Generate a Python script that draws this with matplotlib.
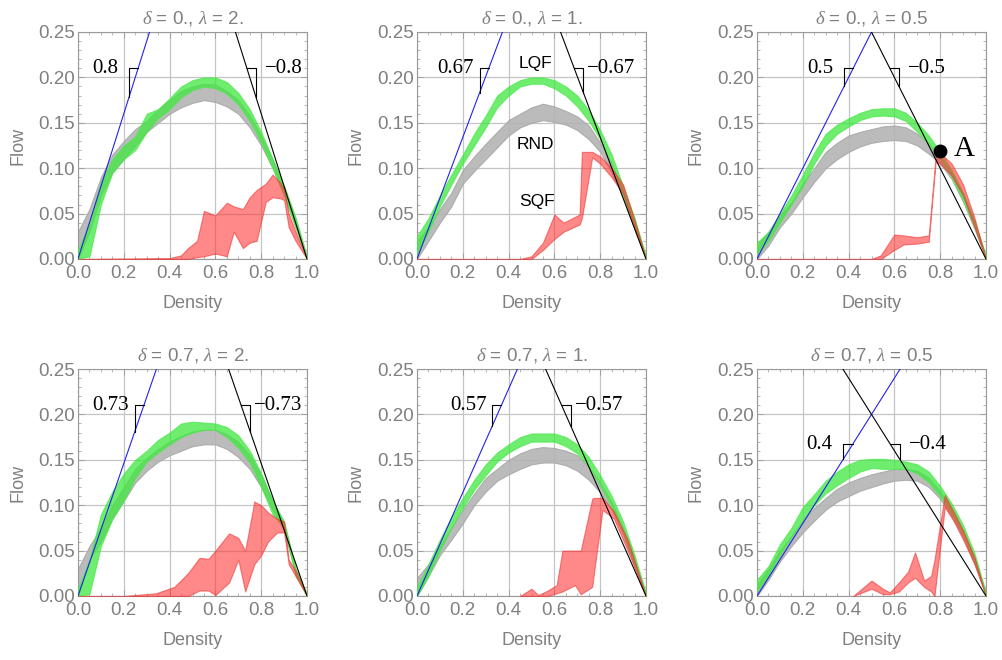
import numpy as np
import matplotlib.pyplot as plt
from matplotlib.ticker import MultipleLocator, FormatStrFormatter

plt.rcParams['font.family'] = ['Liberation Sans', 'DejaVu Sans']
plt.rcParams['mathtext.fontset'] = 'custom'
plt.rcParams['mathtext.it'] = 'Liberation Serif:italic'
plt.rcParams['mathtext.rm'] = 'Liberation Sans'

# panel parameters
DELTAS = ["0.", "0.", "0.", "0.7", "0.7", "0.7"]
LAMBDAS = ["2.", "1.", "0.5", "2.", "1.", "0.5"]
SLOPES = [0.8, 0.67, 0.5, 0.73, 0.57, 0.4]
SLOPE_LABELS = ["0.8", "0.67", "0.5", "0.73", "0.57", "0.4"]
MARK_Y = [0.21, 0.21, 0.21, 0.21, 0.21, 0.167]

# density grid for LQF / RND bands
RHO = [0.0, 0.05, 0.10, 0.15, 0.20, 0.25, 0.30, 0.35, 0.40, 0.45, 0.50,
       0.55, 0.60, 0.65, 0.70, 0.75, 0.80, 0.85, 0.90, 0.95, 1.0]

# LQF (green) band
lqf_lo = [
    [0.0, 0.003, 0.06, 0.095, 0.11, 0.12, 0.14, 0.155, 0.165, 0.178, 0.186,
     0.19, 0.188, 0.182, 0.17, 0.152, 0.128, 0.1, 0.07, 0.035, 0.0],
    [0.005, 0.03, 0.058, 0.082, 0.105, 0.125, 0.145, 0.167, 0.18, 0.19, 0.193,
     0.193, 0.188, 0.18, 0.168, 0.152, 0.132, 0.105, 0.07, 0.035, 0.0],
    [0.005, 0.02, 0.04, 0.06, 0.08, 0.105, 0.125, 0.138, 0.146, 0.153, 0.157,
     0.158, 0.157, 0.152, 0.14, 0.127, 0.11, 0.09, 0.065, 0.035, 0.0],
    [0.0, 0.002, 0.055, 0.085, 0.105, 0.13, 0.148, 0.158, 0.167, 0.175, 0.18,
     0.183, 0.183, 0.175, 0.163, 0.147, 0.12, 0.09, 0.075, 0.022, 0.0],
    [0.0, 0.022, 0.05, 0.075, 0.097, 0.117, 0.133, 0.148, 0.158, 0.165, 0.17,
     0.17, 0.17, 0.165, 0.157, 0.143, 0.122, 0.098, 0.07, 0.035, 0.0],
    [0.005, 0.022, 0.045, 0.065, 0.083, 0.1, 0.113, 0.122, 0.13, 0.137, 0.141,
     0.14, 0.14, 0.14, 0.135, 0.125, 0.11, 0.09, 0.068, 0.038, 0.0],
]
lqf_hi = [
    [0.01, 0.04, 0.085, 0.11, 0.125, 0.135, 0.16, 0.165, 0.177, 0.19, 0.197,
     0.2, 0.2, 0.195, 0.183, 0.165, 0.14, 0.11, 0.08, 0.045, 0.002],
    [0.025, 0.045, 0.07, 0.093, 0.115, 0.138, 0.158, 0.18, 0.19, 0.197, 0.2,
     0.2, 0.197, 0.19, 0.18, 0.164, 0.142, 0.115, 0.08, 0.045, 0.003],
    [0.018, 0.03, 0.05, 0.07, 0.093, 0.117, 0.138, 0.148, 0.155, 0.161, 0.165,
     0.166, 0.166, 0.161, 0.15, 0.136, 0.118, 0.098, 0.073, 0.042, 0.003],
    [0.008, 0.04, 0.09, 0.115, 0.135, 0.15, 0.16, 0.172, 0.18, 0.19, 0.192,
     0.191, 0.19, 0.186, 0.177, 0.16, 0.135, 0.105, 0.082, 0.03, 0.002],
    [0.01, 0.035, 0.062, 0.087, 0.108, 0.128, 0.145, 0.158, 0.167, 0.175, 0.179,
     0.179, 0.179, 0.175, 0.167, 0.153, 0.133, 0.11, 0.082, 0.045, 0.003],
    [0.018, 0.033, 0.057, 0.075, 0.098, 0.112, 0.127, 0.137, 0.145, 0.15, 0.151,
     0.151, 0.15, 0.148, 0.145, 0.137, 0.121, 0.102, 0.078, 0.047, 0.003],
]

# RND (gray) band
rnd_lo = [
    [0.0, 0.03, 0.07, 0.095, 0.11, 0.125, 0.14, 0.15, 0.16, 0.167, 0.172,
     0.175, 0.173, 0.168, 0.16, 0.145, 0.125, 0.1, 0.07, 0.035, 0.0],
    [0.0, 0.02, 0.04, 0.058, 0.083, 0.097, 0.11, 0.123, 0.136, 0.145, 0.15,
     0.153, 0.151, 0.148, 0.142, 0.132, 0.118, 0.095, 0.068, 0.033, 0.0],
    [0.0, 0.015, 0.035, 0.05, 0.068, 0.085, 0.1, 0.11, 0.118, 0.124, 0.128,
     0.13, 0.131, 0.13, 0.125, 0.116, 0.105, 0.088, 0.063, 0.033, 0.0],
    [0.0, 0.04, 0.06, 0.085, 0.105, 0.125, 0.138, 0.148, 0.155, 0.16, 0.165,
     0.167, 0.167, 0.162, 0.153, 0.14, 0.12, 0.095, 0.072, 0.025, 0.0],
    [0.0, 0.022, 0.045, 0.062, 0.08, 0.1, 0.115, 0.127, 0.134, 0.14, 0.145,
     0.147, 0.147, 0.144, 0.138, 0.128, 0.114, 0.095, 0.068, 0.033, 0.0],
    [0.0, 0.018, 0.038, 0.055, 0.07, 0.083, 0.095, 0.104, 0.11, 0.116, 0.12,
     0.124, 0.127, 0.128, 0.127, 0.12, 0.107, 0.088, 0.065, 0.035, 0.0],
]
rnd_hi = [
    [0.03, 0.055, 0.09, 0.115, 0.13, 0.143, 0.152, 0.165, 0.175, 0.185, 0.19,
     0.193, 0.192, 0.185, 0.175, 0.158, 0.135, 0.11, 0.08, 0.045, 0.002],
    [0.02, 0.035, 0.055, 0.073, 0.098, 0.113, 0.127, 0.14, 0.153, 0.16, 0.167,
     0.171, 0.168, 0.163, 0.157, 0.147, 0.128, 0.105, 0.075, 0.04, 0.002],
    [0.015, 0.03, 0.048, 0.062, 0.083, 0.1, 0.118, 0.128, 0.136, 0.14, 0.143,
     0.146, 0.147, 0.145, 0.138, 0.127, 0.113, 0.095, 0.07, 0.04, 0.003],
    [0.03, 0.055, 0.075, 0.1, 0.12, 0.14, 0.152, 0.162, 0.17, 0.176, 0.181,
     0.183, 0.183, 0.178, 0.17, 0.155, 0.133, 0.105, 0.08, 0.03, 0.002],
    [0.02, 0.035, 0.055, 0.075, 0.095, 0.113, 0.13, 0.14, 0.15, 0.157, 0.162,
     0.164, 0.163, 0.16, 0.155, 0.142, 0.125, 0.103, 0.075, 0.04, 0.002],
    [0.012, 0.03, 0.05, 0.066, 0.083, 0.097, 0.108, 0.118, 0.125, 0.13, 0.134,
     0.137, 0.14, 0.14, 0.138, 0.13, 0.115, 0.096, 0.072, 0.042, 0.003],
]

# SQF (red) band, own density points per panel
sqf_x = [
    [0.0, 0.40, 0.45, 0.48, 0.52, 0.55, 0.60, 0.65, 0.68, 0.72, 0.75, 0.78,
     0.82, 0.85, 0.88, 0.90, 0.92, 0.95, 1.0],
    [0.0, 0.45, 0.50, 0.55, 0.60, 0.64, 0.71, 0.72, 0.765, 0.80, 0.85, 0.90,
     0.95, 1.0],
    [0.0, 0.50, 0.54, 0.60, 0.64, 0.70, 0.75, 0.78, 0.80, 0.85, 0.90, 0.95,
     1.0],
    [0.0, 0.20, 0.34, 0.42, 0.48, 0.53, 0.57, 0.60, 0.66, 0.70, 0.73, 0.77,
     0.80, 0.83, 0.87, 0.90, 0.92, 0.95, 1.0],
    [0.45, 0.50, 0.53, 0.57, 0.61, 0.635, 0.69, 0.715, 0.765, 0.77, 0.81,
     0.86, 0.92, 1.0],
    [0.42, 0.50, 0.55, 0.58, 0.62, 0.66, 0.69, 0.73, 0.76, 0.775, 0.82, 0.86,
     0.90, 0.95, 1.0],
]
sqf_lo = [
    [0.0, 0.0, 0.0, 0.0, 0.002, 0.003, 0.006, 0.003, 0.03, 0.012, 0.018, 0.02,
     0.063, 0.068, 0.067, 0.065, 0.035, 0.02, 0.0],
    [0.0, 0.0, 0.0, 0.01, 0.022, 0.03, 0.038, 0.045, 0.112, 0.105, 0.09,
     0.072, 0.035, 0.0],
    [0.0, 0.0, 0.0, 0.01, 0.016, 0.017, 0.019, 0.107, 0.105, 0.092, 0.07,
     0.035, 0.0],
    [0.0, 0.0, 0.0, 0.0, 0.0, 0.006, 0.006, 0.001, 0.015, 0.04, 0.005, 0.035,
     0.045, 0.06, 0.07, 0.07, 0.035, 0.022, 0.0],
    [0.0, 0.0, 0.0, 0.0, 0.003, 0.005, 0.012, 0.002, 0.01, 0.02, 0.095,
     0.085, 0.05, 0.0],
    [0.0, 0.008, 0.002, 0.002, 0.005, 0.015, 0.02, 0.01, 0.005, 0.0, 0.098,
     0.082, 0.062, 0.035, 0.0],
]
sqf_hi = [
    [0.0, 0.001, 0.004, 0.012, 0.02, 0.053, 0.048, 0.062, 0.058, 0.055, 0.068,
     0.076, 0.083, 0.093, 0.085, 0.077, 0.05, 0.03, 0.0],
    [0.0, 0.0, 0.003, 0.018, 0.049, 0.04, 0.049, 0.118, 0.118, 0.113, 0.1,
     0.082, 0.043, 0.0],
    [0.0, 0.0, 0.004, 0.027, 0.026, 0.024, 0.026, 0.113, 0.117, 0.105, 0.082,
     0.045, 0.0],
    [0.0, 0.0, 0.003, 0.01, 0.025, 0.042, 0.041, 0.05, 0.069, 0.064, 0.05,
     0.104, 0.1, 0.092, 0.085, 0.082, 0.04, 0.028, 0.0],
    [0.0, 0.008, 0.001, 0.006, 0.012, 0.05, 0.05, 0.05, 0.107, 0.108, 0.108,
     0.093, 0.062, 0.0],
    [0.0, 0.017, 0.008, 0.004, 0.015, 0.027, 0.048, 0.017, 0.022, 0.04, 0.111,
     0.092, 0.072, 0.042, 0.0],
]

W, H = 1002.0, 660.0
lefts = [78, 417, 757]
tops = [32, 369]
aw, ah = 229, 227
tcol = "#808080"
d = 0.04  # leg of the slope marks

fig = plt.figure(figsize=[W/100, H/100], dpi=100)

for k in range(6):
    r, c = divmod(k, 3)
    ax = fig.add_axes([lefts[c]/W, 1-(tops[r]+ah)/H, aw/W, ah/H])
    ax.set_xlim(0, 1)
    ax.set_ylim(0, 0.25)
    ax.xaxis.set_major_locator(MultipleLocator(0.2))
    ax.xaxis.set_minor_locator(MultipleLocator(0.05))
    ax.yaxis.set_major_locator(MultipleLocator(0.05))
    ax.yaxis.set_minor_locator(MultipleLocator(0.01))
    ax.xaxis.set_major_formatter(FormatStrFormatter("%.1f"))
    ax.yaxis.set_major_formatter(FormatStrFormatter("%.2f"))
    ax.tick_params(which="both", direction="in", top=True, right=True,
                   colors="#999999", labelcolor=tcol, labelsize=13.5)
    ax.tick_params(which="major", length=4, width=0.6)
    ax.tick_params(which="minor", length=2, width=0.5)
    ax.tick_params(axis="y", pad=2)
    ax.tick_params(axis="x", pad=4)
    for s in ax.spines.values():
        s.set_color("#999999")
        s.set_linewidth(0.8)
    ax.grid(True, which="major", color="#c4c4c4", lw=0.9)
    ax.set_axisbelow(True)

    ax.set_xlabel("Density", color=tcol, fontsize=13)
    ax.set_ylabel("Flow", color=tcol, fontsize=13)
    ax.xaxis.set_label_coords(0.5, -36/ah)
    ax.yaxis.set_label_coords(-52/aw, 0.5)
    ax.set_title(r"$\delta$ = %s, $\lambda$ = %s" % (DELTAS[k], LAMBDAS[k]),
                 color=tcol, fontsize=13.5, pad=6)

    ax.fill_between(RHO, rnd_lo[k], rnd_hi[k], facecolor="#b4b4b4",
                    edgecolor="#a8a8a8", lw=0.8, alpha=0.9, zorder=2)
    ax.fill_between(RHO, lqf_lo[k], lqf_hi[k], facecolor="#3fe83f",
                    edgecolor="#4ee84e", lw=0.8, alpha=0.75, zorder=3)
    ax.fill_between(sqf_x[k], sqf_lo[k], sqf_hi[k], facecolor="#ff3b3b",
                    edgecolor="#ee3333", lw=0.8, alpha=0.6, zorder=4)

    m = SLOPES[k]
    ax.plot([0, 1], [0, m], color="#2222ee", lw=0.8, zorder=5)
    ax.plot([0, 1], [m, 0], color="black", lw=0.8, zorder=5)

    # slope marks
    yt = MARK_Y[k]
    xb = yt/m
    ax.plot([xb-d, xb-d, xb], [m*(xb-d), yt, yt], color="black", lw=0.8, zorder=6)
    ax.text(xb-d-0.105, yt, SLOPE_LABELS[k], ha="center", va="center",
            family="Liberation Serif", fontsize=15, color="black")
    xk = 1-yt/m
    ax.plot([xk, xk+d, xk+d], [yt, yt, m*(1-xk-d)], color="black", lw=0.8, zorder=6)
    ax.text(xk+d+0.122, yt, "\u2212"+SLOPE_LABELS[k], ha="center", va="center",
            family="Liberation Serif", fontsize=15, color="black")

    if k == 1:
        ax.text(0.518, 0.2155, "LQF", ha="center", va="center", fontsize=12.5, zorder=7)
        ax.text(0.515, 0.1266, "RND", ha="center", va="center", fontsize=12.5, zorder=7)
        ax.text(0.523, 0.0631, "SQF", ha="center", va="center", fontsize=12.5, zorder=7)
    if k == 2:
        ax.plot(0.8, 0.119, "o", color="black", ms=9, zorder=8, clip_on=False)
        ax.text(0.86, 0.121, "A", ha="left", va="center", family="Liberation Serif",
                fontsize=21, zorder=8)

fig.savefig("out.png", dpi=100)
